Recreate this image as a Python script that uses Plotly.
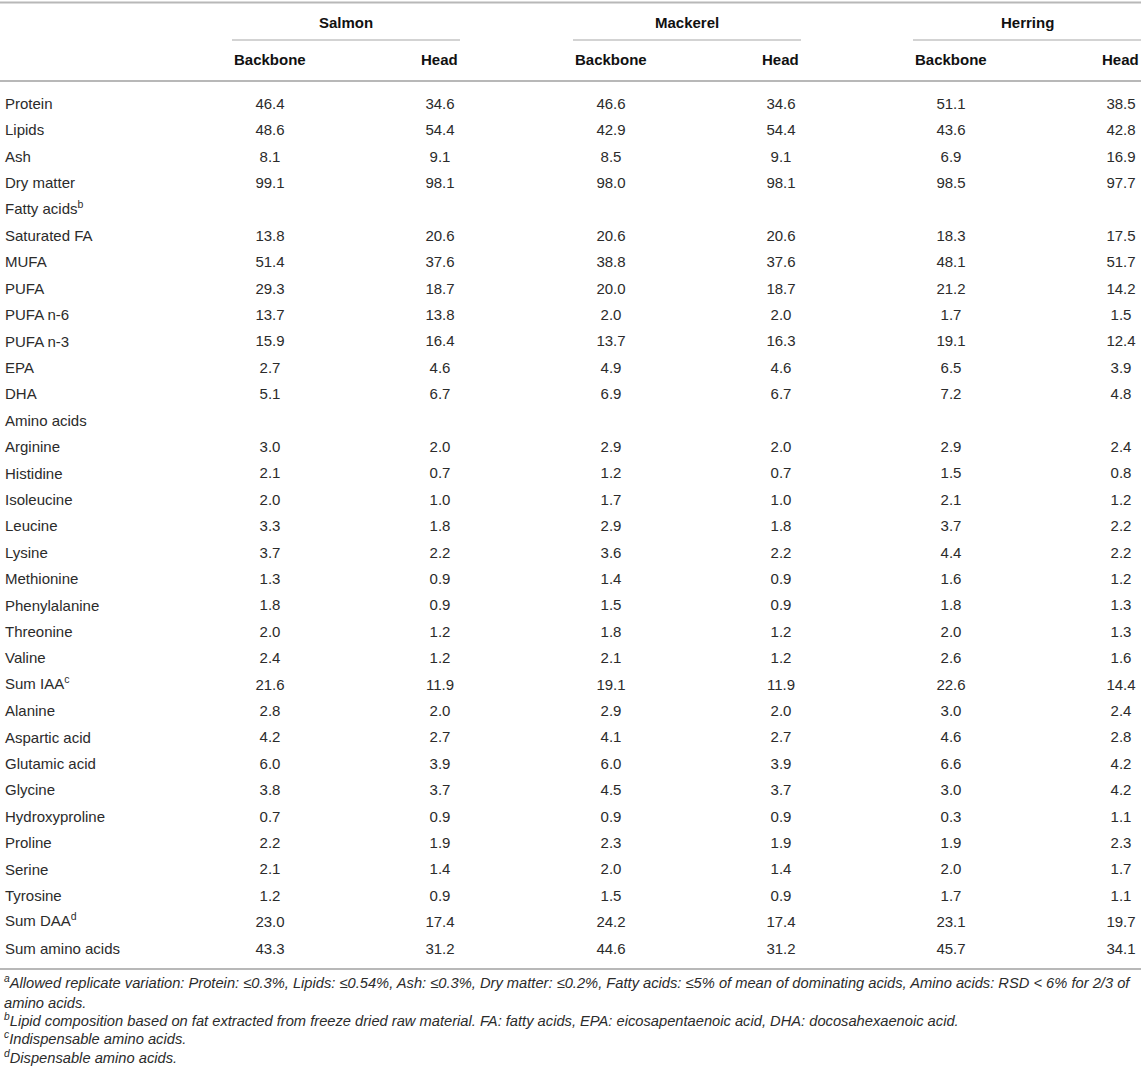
import plotly.graph_objects as go

# table content
rows = ["Protein", "Lipids", "Ash", "Dry matter", "Fatty acids<sup>b</sup>",
        "Saturated FA", "MUFA", "PUFA", "PUFA n-6", "PUFA n-3", "EPA", "DHA",
        "Amino acids", "Arginine", "Histidine", "Isoleucine", "Leucine", "Lysine",
        "Methionine", "Phenylalanine", "Threonine", "Valine", "Sum IAA<sup>c</sup>",
        "Alanine", "Aspartic acid", "Glutamic acid", "Glycine", "Hydroxyproline",
        "Proline", "Serine", "Tyrosine", "Sum DAA<sup>d</sup>", "Sum amino acids"]

species = ["Salmon", "Mackerel", "Herring"]
parts = ["Backbone", "Head"]

salmon_backbone = [46.4, 48.6, 8.1, 99.1, None, 13.8, 51.4, 29.3, 13.7, 15.9, 2.7, 5.1, None,
                   3.0, 2.1, 2.0, 3.3, 3.7, 1.3, 1.8, 2.0, 2.4, 21.6,
                   2.8, 4.2, 6.0, 3.8, 0.7, 2.2, 2.1, 1.2, 23.0, 43.3]
salmon_head = [34.6, 54.4, 9.1, 98.1, None, 20.6, 37.6, 18.7, 13.8, 16.4, 4.6, 6.7, None,
               2.0, 0.7, 1.0, 1.8, 2.2, 0.9, 0.9, 1.2, 1.2, 11.9,
               2.0, 2.7, 3.9, 3.7, 0.9, 1.9, 1.4, 0.9, 17.4, 31.2]
mackerel_backbone = [46.6, 42.9, 8.5, 98.0, None, 20.6, 38.8, 20.0, 2.0, 13.7, 4.9, 6.9, None,
                     2.9, 1.2, 1.7, 2.9, 3.6, 1.4, 1.5, 1.8, 2.1, 19.1,
                     2.9, 4.1, 6.0, 4.5, 0.9, 2.3, 2.0, 1.5, 24.2, 44.6]
mackerel_head = [34.6, 54.4, 9.1, 98.1, None, 20.6, 37.6, 18.7, 2.0, 16.3, 4.6, 6.7, None,
                 2.0, 0.7, 1.0, 1.8, 2.2, 0.9, 0.9, 1.2, 1.2, 11.9,
                 2.0, 2.7, 3.9, 3.7, 0.9, 1.9, 1.4, 0.9, 17.4, 31.2]
herring_backbone = [51.1, 43.6, 6.9, 98.5, None, 18.3, 48.1, 21.2, 1.7, 19.1, 6.5, 7.2, None,
                    2.9, 1.5, 2.1, 3.7, 4.4, 1.6, 1.8, 2.0, 2.6, 22.6,
                    3.0, 4.6, 6.6, 3.0, 0.3, 1.9, 2.0, 1.7, 23.1, 45.7]
herring_head = [38.5, 42.8, 16.9, 97.7, None, 17.5, 51.7, 14.2, 1.5, 12.4, 3.9, 4.8, None,
                2.4, 0.8, 1.2, 2.2, 2.2, 1.2, 1.3, 1.3, 1.6, 14.4,
                2.4, 2.8, 4.2, 4.2, 1.1, 2.3, 1.7, 1.1, 19.7, 34.1]

footnotes = [
    "<sup>a</sup>Allowed replicate variation: Protein: ≤0.3%, Lipids: ≤0.54%, Ash: ≤0.3%, "
    "Dry matter: ≤0.2%, Fatty acids: ≤5% of mean of dominating acids, Amino acids: RSD &lt; 6% for 2/3 of",
    "amino acids.",
    "<sup>b</sup>Lipid composition based on fat extracted from freeze dried raw material. "
    "FA: fatty acids, EPA: eicosapentaenoic acid, DHA: docosahexaenoic acid.",
    "<sup>c</sup>Indispensable amino acids.",
    "<sup>d</sup>Dispensable amino acids.",
]

columns = [salmon_backbone, salmon_head, mackerel_backbone,
           mackerel_head, herring_backbone, herring_head]

# layout (pixel-based axes)
W, H = 1144, 1078
FONT = "Liberation Sans, Arial, Helvetica, sans-serif"
TXT = "#2b2b2b"
LINE = "#b8b8b8"
ROW0, PITCH = 103.5, 26.4
col_x = [270, 440, 611, 781, 951, 1121]
spans = [(232, 460), (573, 801), (913, 1141)]
row_y = [ROW0 + i * PITCH for i in range(len(rows))]

fig = go.Figure()

for cx, vals in zip(col_x, columns):
    idx = [i for i, v in enumerate(vals) if v is not None]
    fig.add_trace(go.Scatter(
        x=[cx] * len(idx), y=[row_y[i] + 1.5 for i in idx], mode="text",
        text=[f"{vals[i]:.1f}" for i in idx],
        textposition="middle center",
        textfont=dict(family=FONT, size=15, color=TXT),
        hoverinfo="skip", showlegend=False))

ann = []
for label, y in zip(rows, row_y):
    ann.append(dict(x=3, y=y, text=label, xanchor="left", yanchor="middle",
                    yshift=2 if "<sup>" in label else 0,
                    font=dict(family=FONT, size=15, color=TXT)))

for name, (x0, x1) in zip(species, spans):
    ann.append(dict(x=(x0 + x1) / 2, y=22.5, text=f"<b>{name}</b>", xanchor="center",
                    yanchor="middle", font=dict(family=FONT, size=15, color="#111")))
    ann.append(dict(x=x0, y=59, text=f"<b>{parts[0]}</b>", xanchor="left",
                    yanchor="middle", font=dict(family=FONT, size=15, color="#111")))
    ann.append(dict(x=x1, y=59, text=f"<b>{parts[1]}</b>", xanchor="right",
                    yanchor="middle", font=dict(family=FONT, size=15, color="#111")))

for i, note in enumerate(footnotes):
    ann.append(dict(x=2, y=984 + i * 18.8, text=f"<i>{note}</i>", xanchor="left",
                    yanchor="middle", yshift=2 if "<sup>" in note else 0,
                    font=dict(family=FONT, size=14.7, color=TXT)))

for a in ann:
    a.update(xref="x", yref="y", showarrow=False)

shapes = [
    dict(type="line", x0=0, x1=1141, y0=2.5, y1=2.5, line=dict(color=LINE, width=2)),
    dict(type="line", x0=0, x1=1141, y0=81, y1=81, line=dict(color=LINE, width=2)),
    dict(type="line", x0=0, x1=1141, y0=969, y1=969, line=dict(color=LINE, width=2)),
]
for x0, x1 in spans:
    shapes.append(dict(type="line", x0=x0, x1=x1, y0=40, y1=40,
                       line=dict(color="#c4c4c4", width=1.5)))
for s in shapes:
    s.update(xref="x", yref="y", layer="below")

fig.update_layout(
    width=W, height=H, margin=dict(l=0, r=0, t=0, b=0),
    paper_bgcolor="white", plot_bgcolor="white",
    xaxis=dict(range=[0, W], visible=False, fixedrange=True),
    yaxis=dict(range=[H, 0], visible=False, fixedrange=True),
    annotations=ann, shapes=shapes,
)

fig.write_html("out.html", config={"displayModeBar": False},
               post_script="document.body.style.margin='0';")
